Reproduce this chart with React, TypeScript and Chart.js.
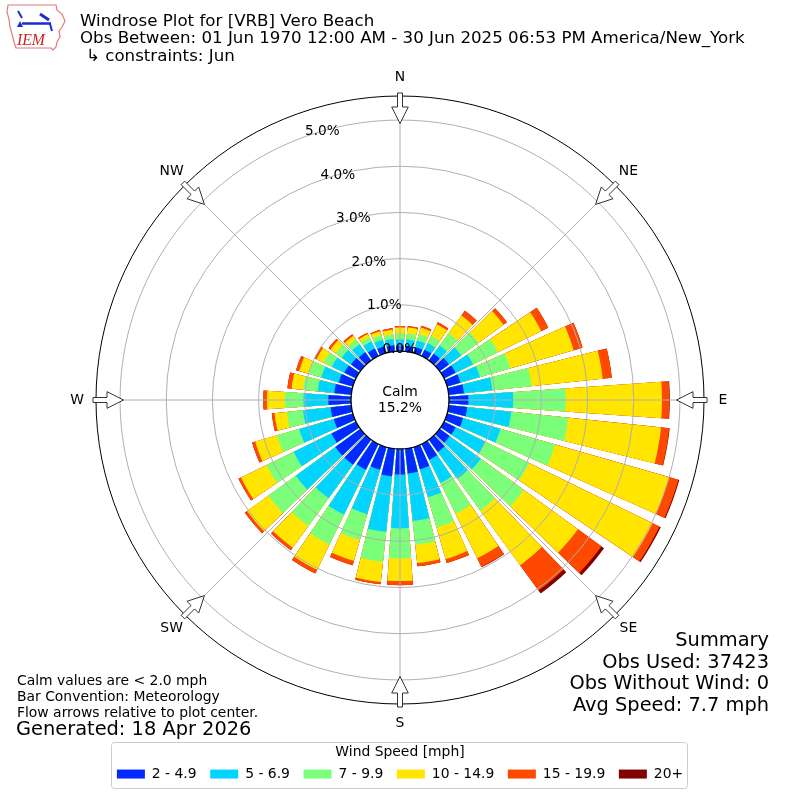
import { useEffect, useRef } from 'react';
import { Chart, registerables } from 'chart.js';

Chart.register(...registerables);

const FONT_FAMILY = '"DejaVu Sans", "Liberation Sans", sans-serif';

// ---------------- data ----------------
const directions = [0, 10, 20, 30, 40, 50, 60, 70, 80, 90, 100, 110, 120, 130, 140, 150, 160, 170,
  180, 190, 200, 210, 220, 230, 240, 250, 260, 270, 280, 290, 300, 310, 320, 330, 340, 350];
const compassLabels = ['N', 'NE', 'E', 'SE', 'S', 'SW', 'W', 'NW'];
const speedBins = ['2 - 4.9', '5 - 6.9', '7 - 9.9', '10 - 14.9', '15 - 19.9', '20+'];
const binColors = ['#002aff', '#00d4ff', '#7bff7b', '#ffe500', '#ff4800', '#800000'];

// frequency (% of all obs) per direction for each speed bin
const freq2to5 = [0.12, 0.12, 0.13, 0.15, 0.18, 0.25, 0.28, 0.30, 0.33, 0.42, 0.40, 0.36, 0.28, 0.27, 0.33, 0.38, 0.50, 0.54,
  0.55, 0.60, 0.51, 0.62, 0.67, 0.67, 0.59, 0.43, 0.45, 0.49, 0.37, 0.32, 0.28, 0.25, 0.22, 0.18, 0.15, 0.13];
const freq5to7 = [0.13, 0.14, 0.15, 0.16, 0.22, 0.33, 0.42, 0.44, 0.62, 0.97, 0.96, 0.84, 0.72, 0.83, 0.72, 0.56, 0.63, 1.03,
  1.17, 1.21, 1.00, 1.08, 0.90, 1.06, 0.91, 0.78, 0.60, 0.54, 0.36, 0.39, 0.30, 0.25, 0.21, 0.17, 0.15, 0.14];
const freq7to10 = [0.13, 0.13, 0.14, 0.17, 0.33, 0.46, 0.60, 0.68, 0.85, 1.14, 1.24, 1.23, 1.05, 1.15, 0.85, 0.74, 0.68, 0.52,
  0.65, 0.65, 0.58, 0.72, 0.74, 0.73, 0.65, 0.50, 0.35, 0.40, 0.32, 0.28, 0.20, 0.16, 0.13, 0.10, 0.10, 0.10];
const freq10to15 = [0.13, 0.13, 0.15, 0.28, 0.47, 0.67, 1.04, 1.43, 1.55, 2.08, 2.02, 2.57, 2.97, 1.45, 1.46, 1.07, 0.71, 0.40,
  0.49, 0.44, 0.47, 0.61, 0.58, 0.57, 0.62, 0.49, 0.27, 0.39, 0.25, 0.22, 0.17, 0.14, 0.10, 0.08, 0.09, 0.10];
const freq15to20 = [0.03, 0.03, 0.04, 0.05, 0.13, 0.09, 0.17, 0.20, 0.20, 0.16, 0.18, 0.21, 0.17, 0.63, 0.68, 0.21, 0.09, 0.07,
  0.09, 0.05, 0.10, 0.09, 0.07, 0.06, 0.06, 0.07, 0.06, 0.08, 0.09, 0.07, 0.05, 0.05, 0.04, 0.03, 0.03, 0.03];
const freq20plus = [0, 0, 0, 0, 0, 0, 0, 0, 0, 0.01, 0.01, 0.02, 0.03, 0.07, 0.08, 0.01, 0, 0,
  0, 0, 0, 0, 0, 0, 0, 0, 0, 0, 0, 0, 0, 0, 0, 0, 0, 0];

const radialTicks = [0, 1, 2, 3, 4, 5];
const radialMin = -1.06;
const radialMax = 5.52;
const calmPercent = 15.2;

const titleLines = [
  'Windrose Plot for [VRB] Vero Beach',
  'Obs Between: 01 Jun 1970 12:00 AM - 30 Jun 2025 06:53 PM America/New_York',
  '\u21b3 constraints: Jun',
];
const summaryLines = ['Summary', 'Obs Used: 37423', 'Obs Without Wind: 0', 'Avg Speed: 7.7 mph'];
const noteLines = ['Calm values are < 2.0 mph', 'Bar Convention: Meteorology', 'Flow arrows relative to plot center.'];
const generatedText = 'Generated: 18 Apr 2026';
const legendTitle = 'Wind Speed [mph]';

// ---------------- helpers ----------------
const sectorStep = 360 / directions.length;
const barDeg = sectorStep * 0.8;
const gapDeg = sectorStep - barDeg;

type Slot = { dir: number | null; angle: number };
function buildSlots(): Slot[] {
  const slots: Slot[] = [{ dir: 0, angle: barDeg / 2 }];
  for (let k = 1; k < directions.length; k++) {
    slots.push({ dir: null, angle: gapDeg });
    slots.push({ dir: k, angle: barDeg });
  }
  slots.push({ dir: null, angle: gapDeg });
  slots.push({ dir: 0, angle: barDeg / 2 });
  return slots;
}

const windrosePlugin = {
  id: 'windroseDecor',
  beforeDraw(chart: any) {
    const legend = chart.legend;
    if (!legend || !legend.legendHitBoxes || !legend.legendHitBoxes.length) return;
    const hb = legend.legendHitBoxes;
    const left = Math.round(Math.min(...hb.map((h: any) => h.left)) - 6) + 0.5;
    const right = Math.round(Math.max(...hb.map((h: any) => h.left + h.width)) + 4) + 0.5;
    const top = Math.round(legend.top) + 0.5;
    const bottom = top + 46;
    const rr = 3;
    const ctx = chart.ctx;
    ctx.save();
    ctx.beginPath();
    ctx.moveTo(left + rr, top);
    ctx.lineTo(right - rr, top);
    ctx.arcTo(right, top, right, top + rr, rr);
    ctx.lineTo(right, bottom - rr);
    ctx.arcTo(right, bottom, right - rr, bottom, rr);
    ctx.lineTo(left + rr, bottom);
    ctx.arcTo(left, bottom, left, bottom - rr, rr);
    ctx.lineTo(left, top + rr);
    ctx.arcTo(left, top, left + rr, top, rr);
    ctx.closePath();
    ctx.fillStyle = 'rgba(255,255,255,0.8)';
    ctx.fill();
    ctx.strokeStyle = '#cccccc';
    ctx.lineWidth = 1;
    ctx.stroke();
    ctx.restore();
  },
  afterDraw(chart: any) {
    const ctx = chart.ctx;
    const scale = chart.scales.r;
    const cx = scale.xCenter;
    const cy = scale.yCenter;
    const R = scale.drawingArea;
    ctx.save();
    // outer spine
    ctx.beginPath();
    ctx.arc(cx, cy, R, 0, Math.PI * 2);
    ctx.lineWidth = 1;
    ctx.strokeStyle = '#000';
    ctx.stroke();
    // calm circle
    const r0 = scale.getDistanceFromCenterForValue(0);
    ctx.beginPath();
    ctx.arc(cx, cy, r0, 0, Math.PI * 2);
    ctx.fillStyle = '#fff';
    ctx.fill();
    ctx.lineWidth = 1.3;
    ctx.strokeStyle = '#000';
    ctx.stroke();
    ctx.fillStyle = '#000';
    ctx.font = `13.9px ${FONT_FAMILY}`;
    ctx.textAlign = 'center';
    ctx.textBaseline = 'alphabetic';
    ctx.fillText('Calm', cx, cy - 4);
    ctx.fillText(`${calmPercent.toFixed(1)}%`, cx, cy + 12);
    // radial tick labels
    const a = (19.6 * Math.PI) / 180;
    ctx.font = `13.6px ${FONT_FAMILY}`;
    ctx.textAlign = 'left';
    radialTicks.forEach((v) => {
      const r = scale.getDistanceFromCenterForValue(v);
      ctx.fillText(`${v.toFixed(1)}%`, cx - r * Math.sin(a) - 1, cy - r * Math.cos(a) - 1);
    });
    // compass labels & flow arrows
    ctx.font = `13.9px ${FONT_FAMILY}`;
    compassLabels.forEach((lab: string, i: number) => {
      const p = scale.getPointPosition(i, R + 19);
      ctx.fillStyle = '#000';
      ctx.textAlign = 'center';
      ctx.textBaseline = 'middle';
      ctx.fillText(lab, p.x, p.y);
      const ux = Math.cos(p.angle);
      const uy = Math.sin(p.angle);
      const vx = -uy;
      const vy = ux;
      const pt = (d: number, w: number) => [cx + ux * d + vx * w, cy + uy * d + vy * w];
      const poly = [pt(R + 3, -2.5), pt(R - 11, -2.5), pt(R - 11, -8.3), pt(R - 27.5, 0),
        pt(R - 11, 8.3), pt(R - 11, 2.5), pt(R + 3, 2.5)];
      ctx.beginPath();
      poly.forEach(([x, y], k) => (k ? ctx.lineTo(x, y) : ctx.moveTo(x, y)));
      ctx.closePath();
      ctx.fillStyle = '#fff';
      ctx.fill();
      ctx.strokeStyle = '#333';
      ctx.lineWidth = 1;
      ctx.stroke();
    });
    ctx.restore();
  },
};

function TextLine(props: { text: string; fs: number; baseline: number; left?: number; right?: number }) {
  const { text, fs, baseline, left, right } = props;
  const style: any = {
    position: 'absolute',
    top: baseline - 0.928 * fs,
    fontSize: fs,
    lineHeight: `${1.164 * fs}px`,
    whiteSpace: 'nowrap',
    fontFamily: FONT_FAMILY,
    color: '#000',
  };
  if (left !== undefined) style.left = left;
  if (right !== undefined) {
    style.right = right;
    style.textAlign = 'right';
  }
  return <div style={style}>{text}</div>;
}

export default function App() {
  const canvasRef = useRef<HTMLCanvasElement>(null);

  useEffect(() => {
    const canvas = canvasRef.current;
    if (!canvas) return;
    const slots = buildSlots();
    const binSeries = [freq2to5, freq5to7, freq7to10, freq10to15, freq15to20, freq20plus];
    const cumulative = binSeries.map((_, j) =>
      directions.map((_d, di) => binSeries.slice(0, j + 1).reduce((s, arr) => s + arr[di], 0)));

    const datasets = speedBins.map((label, j) => ({
      label,
      data: slots.map((s) => (s.dir === null ? radialMin : cumulative[j][s.dir])),
      backgroundColor: slots.map((s) => (s.dir === null ? 'rgba(0,0,0,0)' : binColors[j])),
      borderWidth: 0,
      angle: (c: any) => (slots[c.dataIndex] ? slots[c.dataIndex].angle : barDeg),
    }));

    const chart = new Chart(canvas, {
      type: 'polarArea',
      data: { labels: compassLabels, datasets } as any,
      options: {
        responsive: false,
        animation: false,
        events: [],
        layout: { padding: { left: 96, right: 96, top: 58, bottom: 9 } },
        scales: {
          r: {
            type: 'radialLinear',
            min: radialMin,
            max: radialMax,
            startAngle: 0,
            afterBuildTicks: (scale: any) => {
              scale.ticks = radialTicks.filter((v) => v > 0).map((v) => ({ value: v }));
            },
            ticks: { display: false },
            grid: { display: true, circular: true, color: '#b0b0b0', lineWidth: 1, z: 1 },
            angleLines: { display: true, color: '#b0b0b0', lineWidth: 1 },
            pointLabels: { display: false },
          },
        },
        plugins: {
          tooltip: { enabled: false },
          title: { display: false },
          legend: {
            display: true,
            position: 'bottom',
            title: {
              display: true,
              text: legendTitle,
              color: '#000',
              font: { family: FONT_FAMILY, size: 13.9 },
              padding: { top: 3.5, bottom: -8.7 },
            },
            labels: {
              boxWidth: 28,
              boxHeight: 9,
              padding: 13.6,
              color: '#000',
              font: { family: FONT_FAMILY, size: 13.9 },
              generateLabels: () =>
                speedBins.map((t, i) => ({
                  text: t,
                  fillStyle: binColors[i],
                  strokeStyle: binColors[i],
                  lineWidth: 0,
                  hidden: false,
                  datasetIndex: i,
                  fontColor: '#000',
                })),
            },
          },
        },
      } as any,
      plugins: [windrosePlugin],
    });
    return () => chart.destroy();
  }, []);

  return (
    <div style={{ position: 'absolute', left: 0, top: 0, width: 800, height: 800, background: '#fff', overflow: 'hidden' }}>
      <canvas ref={canvasRef} width={800} height={800} style={{ position: 'absolute', left: 0, top: 0, width: 800, height: 800 }} />
      <svg width={70} height={54} viewBox="0 0 70 54" style={{ position: 'absolute', left: 0, top: 0 }}>
        <path d="M8 5 L56 5 L57 10 L62 14 L65 21 L62 27 L59 31 L60 37 L57 42 L56 47 L53 50 L51 48 L16 48 L14 42 L12 34 L10 27 L9 19 L7 12 Z"
          fill="#fff" stroke="#e07a7a" strokeWidth={1.2} />
        <polygon points="17,27 20,21 23,27" fill="#1a2bd6" />
        <line x1={22} y1={23.5} x2={51} y2={23.5} stroke="#1a2bd6" strokeWidth={2.5} />
        <line x1={18} y1={11} x2={22} y2={18} stroke="#1a2bd6" strokeWidth={2} />
        <line x1={40} y1={14} x2={49} y2={20} stroke="#1a2bd6" strokeWidth={3} />
        <line x1={50} y1={24} x2={52} y2={31} stroke="#1a2bd6" strokeWidth={2} />
        <text x={17} y={45} fontFamily="Liberation Serif, serif" fontStyle="italic" fontSize={17}
          fill="#d42020" textLength={28} lengthAdjust="spacingAndGlyphs">IEM</text>
      </svg>
      <TextLine text={titleLines[0]} fs={16.67} baseline={26} left={80} />
      <TextLine text={titleLines[1]} fs={16.67} baseline={43.5} left={80} />
      <TextLine text={titleLines[2]} fs={16.67} baseline={61.3} left={86} />
      {summaryLines.map((t, i) => (
        <TextLine key={t} text={t} fs={19.4} baseline={647 + i * 21.7} right={31} />
      ))}
      {noteLines.map((t, i) => (
        <TextLine key={t} text={t} fs={13.9} baseline={685 + i * 16} left={17} />
      ))}
      <TextLine text={generatedText} fs={19.4} baseline={736.5} left={16} />
    </div>
  );
}
